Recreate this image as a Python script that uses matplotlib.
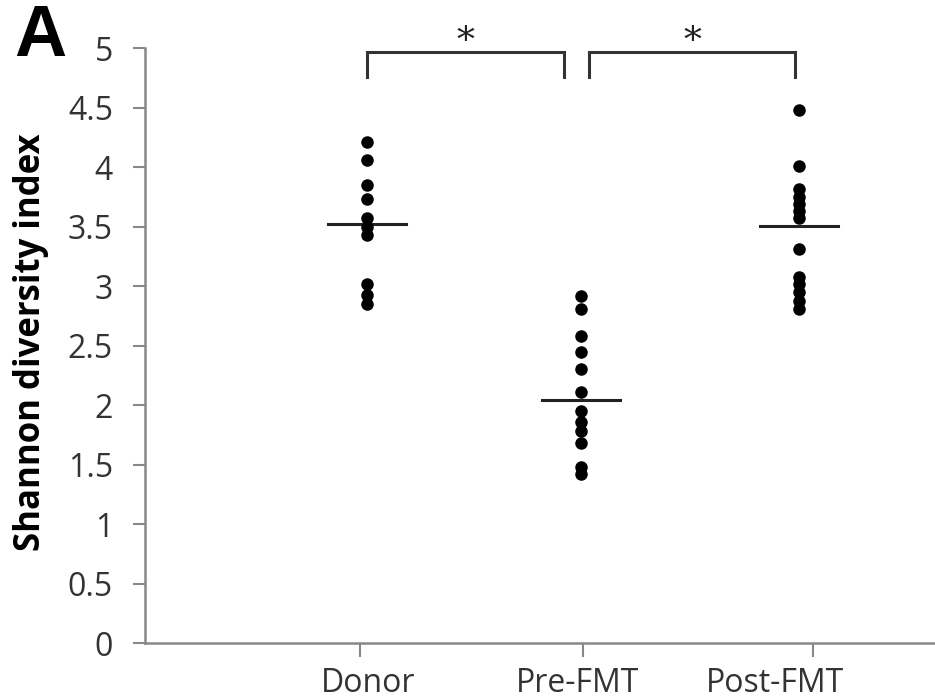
import numpy as np
import matplotlib.pyplot as plt

# values
groups = ['Donor', 'Pre-FMT', 'Post-FMT']
donor = [4.21, 4.06, 3.85, 3.73, 3.57, 3.50, 3.43, 3.02, 2.93, 2.85]
pre_fmt = [2.92, 2.81, 2.58, 2.45, 2.30, 2.11, 1.95, 1.86, 1.78, 1.68, 1.48, 1.42]
post_fmt = [4.48, 4.01, 3.82, 3.75, 3.69, 3.63, 3.57, 3.31, 3.08, 3.02, 2.95, 2.88, 2.81]
group_means = [3.52, 2.04, 3.51]
y_ticks = [0, 0.5, 1, 1.5, 2, 2.5, 3, 3.5, 4, 4.5, 5]
y_tick_labels = ['0', '0.5', '1', '1.5', '2', '2.5', '3', '3.5', '4', '4.5', '5']
# significance brackets: (left group, right group, label)
brackets = [(0, 1, '*'), (1, 2, '*')]

plt.rcParams['font.family'] = ['Open Sans', 'DejaVu Sans']

fig = plt.figure(figsize=(9.35, 7), dpi=100)
ax = fig.add_axes([0.155, 0.0814, 0.845, 0.8495])

xpos = np.array([1.0, 1.99, 3.0])
for i, vals in enumerate([donor, pre_fmt, post_fmt]):
    ax.scatter(np.full(len(vals), xpos[i]), vals, s=64, color='black',
               zorder=3, clip_on=False)
    ax.plot([xpos[i] - 0.18, xpos[i] + 0.18], [group_means[i]] * 2,
            color='#222222', lw=2.2, zorder=2)

# brackets with stars above
for a, b, lab in brackets:
    x0 = xpos[a] + (0.0 if a == 0 else 0.04)
    x1 = xpos[b] - (0.08 if b == 1 else 0.02)
    ax.plot([x0, x0, x1, x1], [4.76, 4.97, 4.97, 4.76], color='#333333',
            lw=2.2, clip_on=False, solid_joinstyle='miter')
    ax.text((x0 + x1) / 2, 4.91, lab, ha='center', va='bottom', fontsize=26,
            family='DejaVu Serif', color='#222222', clip_on=False)

ax.set_xlim(-0.028, 3.63)
ax.set_ylim(0, 5)
ax.set_yticks(y_ticks)
ax.set_yticklabels(y_tick_labels, fontsize=23, color='#333333')

# tick marks and labels sit a little apart in the original
ax.set_xticks([0.97, 2.0, 3.065])
ax.set_xticklabels([])
for i, g in enumerate(groups):
    lx = [1.005, 1.975, 2.89][i]
    ax.text(lx, -0.2, g, ha='center', va='top', fontsize=23, color='#333333',
            transform=ax.transData, clip_on=False)

ax.tick_params(axis='y', direction='out', length=9, width=1.5, color='#888888', pad=14)
ax.tick_params(axis='x', direction='out', length=10, width=1.5, color='#888888')
for side in ['top', 'right']:
    ax.spines[side].set_visible(False)
for side in ['left', 'bottom']:
    ax.spines[side].set_color('#888888')
    ax.spines[side].set_linewidth(1.8)

ax.set_ylabel('Shannon diversity index', fontsize=25, fontweight='bold')
ax.yaxis.set_label_coords(-0.122, 0.506)

fig.text(0.015, 0.995, 'A', fontsize=52, fontweight='bold', ha='left', va='top',
         family='Liberation Sans')

fig.savefig('out.png', dpi=100, facecolor='white')
